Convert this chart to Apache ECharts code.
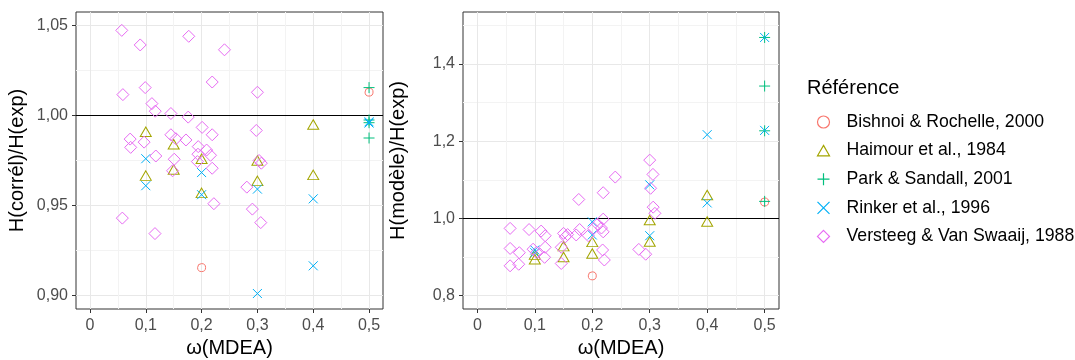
<!DOCTYPE html>
<html><head><meta charset="utf-8">
<script src="https://cdn.jsdelivr.net/npm/echarts@6/dist/echarts.min.js"></script>
<style>html,body{margin:0;padding:0;background:#fff}#c{width:1075px;height:360px}</style>
</head><body><div id="c"></div>
<script>
// ---------- data ----------
const xTicks = [0, 0.1, 0.2, 0.3, 0.4, 0.5];
const yTicksCorr = [0.90, 0.95, 1.00, 1.05];
const yTicksModel = [0.8, 1.0, 1.2, 1.4];
const seriesNames = ['Bishnoi & Rochelle, 2000', 'Haimour et al., 1984', 'Park & Sandall, 2001', 'Rinker et al., 1996', 'Versteeg & Van Swaaij, 1988'];
const xTitle = 'ω(MDEA)';
const yTitleCorr = 'H(corrél)/H(exp)';
const yTitleModel = 'H(modèle)/H(exp)';
const legendTitle = 'Référence';
const refLine = 1;

const bishnoiX = [0.2, 0.5];
const bishnoiCorr = [0.9155, 1.013];
const bishnoiModel = [0.851, 1.0425];

const haimourX = [0.1, 0.1, 0.15, 0.15, 0.2, 0.2, 0.3, 0.3, 0.4, 0.4];
const haimourCorr = [0.991, 0.9666, 0.984, 0.970, 0.976, 0.957, 0.975, 0.9637, 0.995, 0.967];
const haimourModel = [0.906, 0.894, 0.928, 0.900, 0.939, 0.909, 0.9956, 0.940, 1.0605, 0.992];

const parkX = [0.5, 0.5, 0.5, 0.5];
const parkCorr = [1.0155, 0.9975, 0.996, 0.9875];
const parkModel = [1.469, 1.343, 1.227, 1.044];

const rinkerX = [0.1, 0.1, 0.2, 0.2, 0.3, 0.3, 0.4, 0.4, 0.5, 0.5];
const rinkerCorr = [0.976, 0.961, 0.9683, 0.956, 0.9591, 0.9011, 0.9537, 0.9165, 0.9965, 0.9958];
const rinkerModel = [0.918, 0.911, 0.991, 0.957, 1.087, 0.955, 1.217, 1.040, 1.469, 1.228];

const versteegXCorr = [0.057,0.090,0.177,0.241,0.219,0.059,0.099,0.111,0.117,0.145,0.176,0.201,0.219,0.072,0.073,0.097,0.145,0.154,0.172,0.194,0.209,0.118,0.151,0.216,0.1935,0.1925,0.219,0.148,0.300,0.298,0.303,0.307,0.222,0.281,0.291,0.306,0.058,0.1165];
const versteegCorr = [1.0473,1.0392,1.0440,1.0365,1.0186,1.0116,1.0155,1.0066,1.0024,1.0011,0.9991,0.9934,0.9893,0.9869,0.9823,0.9852,0.9893,0.9871,0.9864,0.9827,0.9808,0.9775,0.9757,0.9779,0.9785,0.9744,0.9707,0.9693,1.0129,0.9917,0.9750,0.9735,0.9510,0.9602,0.9480,0.9405,0.9430,0.9344];
const versteegXModel = [0.057,0.057,0.057,0.073,0.072,0.090,0.097,0.103,0.111,0.118,0.118,0.117,0.146,0.146,0.150,0.153,0.157,0.172,0.178,0.1765,0.193,0.2026,0.209,0.219,0.216,0.219,0.218,0.221,0.219,0.240,0.281,0.293,0.300,0.3056,0.3015,0.306,0.309];
const versteegModel = [0.974,0.922,0.877,0.911,0.881,0.971,0.920,0.912,0.967,0.955,0.925,0.899,0.925,0.883,0.961,0.952,0.958,0.957,0.971,1.049,0.955,0.974,0.985,0.998,0.975,0.965,0.918,0.892,1.0665,1.107,0.9195,0.907,1.151,1.114,1.078,1.029,1.013];

// ---------- styling ----------
const colors = ['#F8766D', '#A3A500', '#00BF7D', '#00B0F6', '#E76BF3'];
const shapes = [
  'path://M5,0 A5,5 0 1 1 4.99,0 Z',
  'path://M5,0 L10,8.66 L0,8.66 Z',
  'path://M5,0 L5,10 M0,5 L10,5',
  'path://M0,0 L10,10 M10,0 L0,10',
  'path://M5,0 L10,5 L5,10 L0,5 Z'
];
const sizes = [[8, 8], [11, 9.5], [11, 11], [9, 9], [12, 12]];
const FONT = 'Liberation Sans, Arial, sans-serif';
const MAJOR = '#E8E8E8', MINOR = '#F3F3F3', NONE = 'rgba(0,0,0,0)';

function zip(xs, ys) { return xs.map((x, i) => [x, ys[i]]); }
const comma = (v, d) => v.toFixed(d).replace('.', ',');

const panels = [
  { left: 76, width: 307, ymin: 0.8925, ymax: 1.0575, yint: 0.0025, yMajorIdx: 3, yMinorIdx: 13, yCycle: 20,
    yTicks: yTicksCorr, yDec: 2, yTitle: yTitleCorr, nameGap: 49,
    data: [zip(bishnoiX, bishnoiCorr), zip(haimourX, haimourCorr), zip(parkX, parkCorr), zip(rinkerX, rinkerCorr), zip(versteegXCorr, versteegCorr)] },
  { left: 463, width: 316, ymin: 0.765, ymax: 1.535, yint: 0.005, yMajorIdx: 7, yMinorIdx: 27, yCycle: 40,
    yTicks: yTicksModel, yDec: 1, yTitle: yTitleModel, nameGap: 55,
    data: [zip(bishnoiX, bishnoiModel), zip(haimourX, haimourModel), zip(parkX, parkModel), zip(rinkerX, rinkerModel), zip(versteegXModel, versteegModel)] }
];

const grids = [], xAxes = [], yAxes = [], series = [];
panels.forEach((p, pi) => {
  grids.push({ left: p.left, top: 12, width: p.width, height: 297, show: true, borderColor: '#333333', borderWidth: 1,
    backgroundColor: '#fff', containLabel: false, outerBoundsMode: 'none' });
  xAxes.push({ type: 'value', gridIndex: pi, min: -0.025, max: 0.525, position: 'bottom',
    name: xTitle, nameLocation: 'middle', nameGap: 29, nameTextStyle: { fontSize: 20, color: '#000', fontFamily: FONT },
    axisLine: { show: false, onZero: false }, splitLine: { show: false },
    axisTick: { show: true, inside: false, length: 4, lineStyle: { color: '#333333' }, customValues: xTicks },
    axisLabel: { show: true, margin: 9, fontSize: 16, color: '#4D4D4D', fontFamily: FONT, customValues: xTicks,
      formatter: v => (Math.abs(v) < 1e-9 ? '0' : comma(v, 1)) } });
  xAxes.push({ type: 'value', gridIndex: pi, min: -0.025, max: 0.525, interval: 0.025, position: 'bottom',
    axisLine: { show: false, onZero: false }, axisTick: { show: false }, axisLabel: { show: false },
    splitLine: { show: true, lineStyle: { width: 1, color: [NONE, MAJOR, NONE, MINOR] } } });
  yAxes.push({ type: 'value', gridIndex: pi, min: p.ymin, max: p.ymax, position: 'left',
    name: p.yTitle, nameLocation: 'middle', nameGap: p.nameGap, nameTextStyle: { fontSize: 20, color: '#000', fontFamily: FONT },
    axisLine: { show: false, onZero: false }, splitLine: { show: false },
    axisTick: { show: true, inside: false, length: 4, lineStyle: { color: '#333333' }, customValues: p.yTicks },
    axisLabel: { show: true, margin: 8, fontSize: 16, color: '#4D4D4D', fontFamily: FONT, customValues: p.yTicks,
      formatter: v => comma(v, p.yDec) } });
  const cyc = [];
  for (let i = 0; i < p.yCycle; i++) cyc.push(i === p.yMajorIdx ? MAJOR : (i === p.yMinorIdx ? MINOR : NONE));
  yAxes.push({ type: 'value', gridIndex: pi, min: p.ymin, max: p.ymax, interval: p.yint, position: 'left',
    axisLine: { show: false, onZero: false }, axisTick: { show: false }, axisLabel: { show: false },
    splitLine: { show: true, lineStyle: { width: 1, color: cyc } } });

  p.data.forEach((d, si) => {
    const s = { type: 'scatter', name: seriesNames[si], xAxisIndex: pi * 2, yAxisIndex: pi * 2, data: d,
      symbol: shapes[si], symbolSize: sizes[si], symbolKeepAspect: false,
      itemStyle: { color: 'none', borderColor: colors[si], borderWidth: 1, opacity: 1 },
      emphasis: { disabled: true }, z: 3 };
    if (si === 0) {
      s.markLine = { silent: true, symbol: 'none', label: { show: false }, animation: false,
        lineStyle: { color: '#000', width: 1, type: 'solid' }, data: [{ yAxis: refLine }], z: 2 };
    }
    series.push(s);
  });
});

const chart = echarts.init(document.getElementById('c'), null, { renderer: 'canvas' });
chart.setOption({
  animation: false,
  backgroundColor: '#fff',
  textStyle: { fontFamily: FONT },
  title: { text: legendTitle, left: 802, top: 73, textStyle: { fontSize: 20, fontWeight: 'normal', color: '#000', fontFamily: FONT } },
  legend: { orient: 'vertical', left: 810, top: 108, itemWidth: 12, itemHeight: 12, itemGap: 10.6,
    textStyle: { fontSize: 17.7, color: '#000', fontFamily: FONT, padding: [0, 0, 0, 12] },
    data: seriesNames.map((n, i) => ({ name: n, icon: shapes[i],
      itemStyle: { color: 'none', borderColor: colors[i], borderWidth: 1.2, opacity: 1 } })) },
  grid: grids, xAxis: xAxes, yAxis: yAxes, series: series
});
</script></body></html>
